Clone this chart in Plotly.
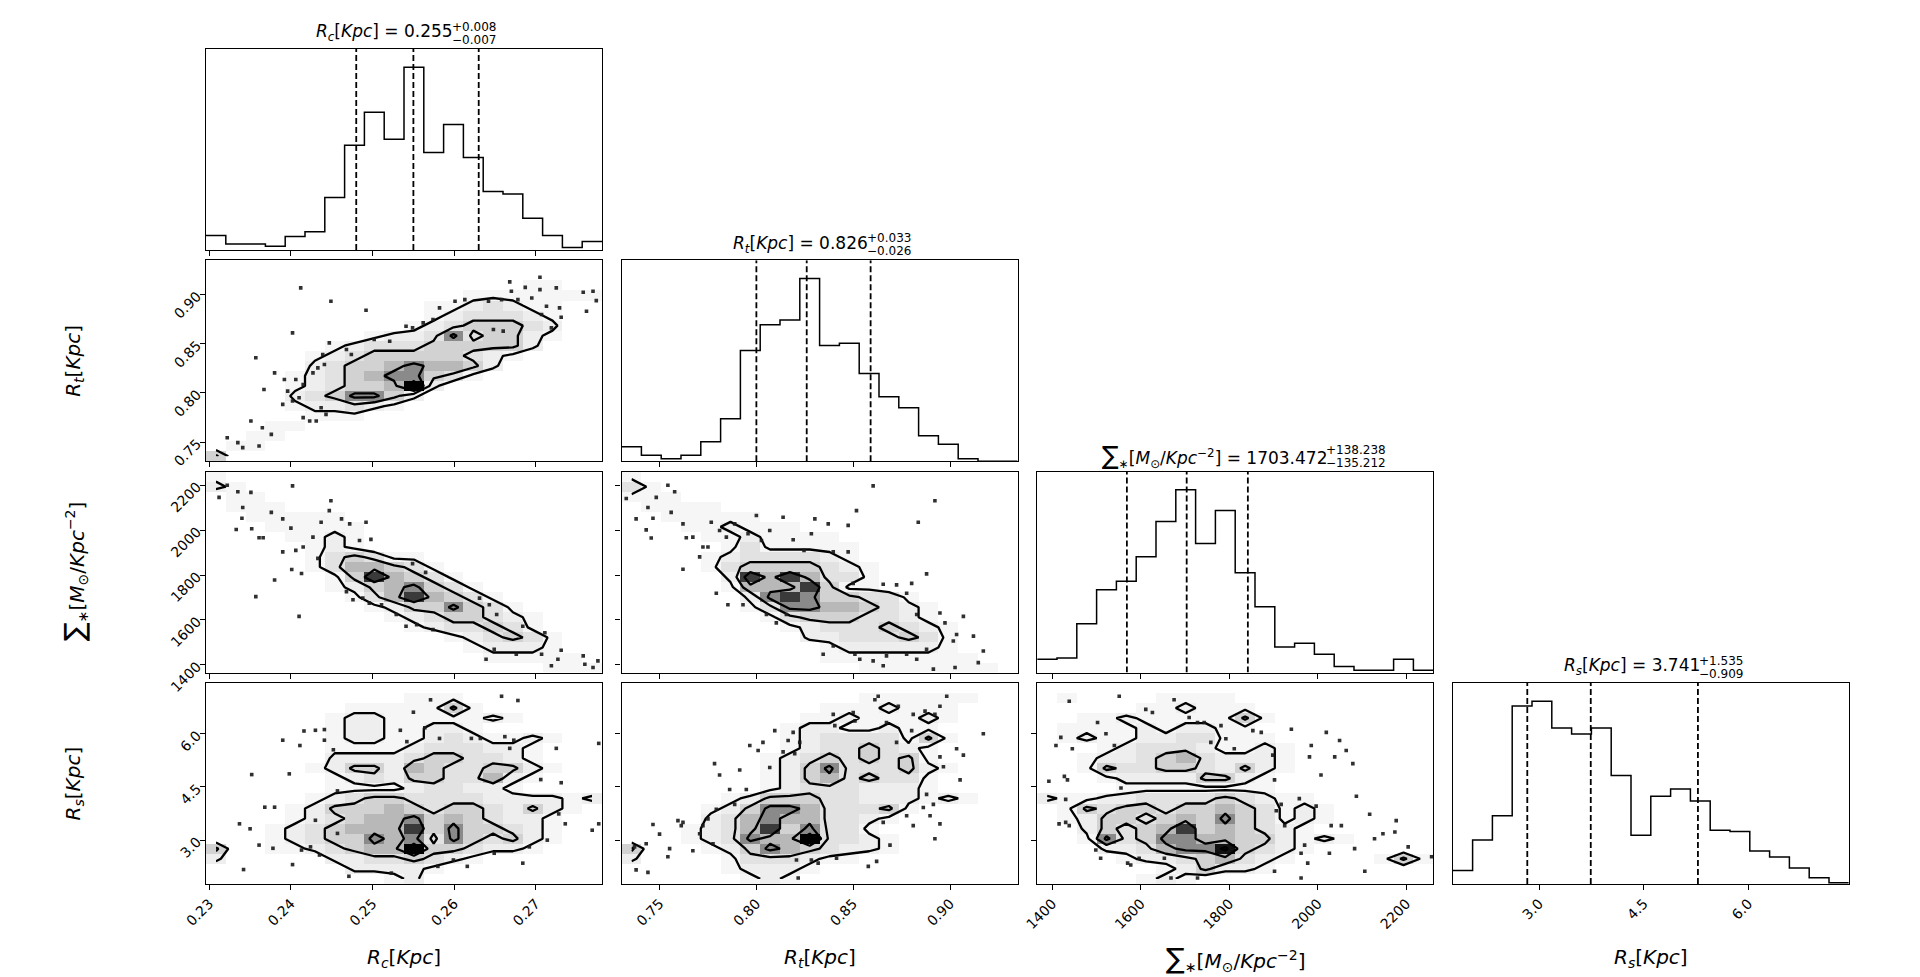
import plotly.graph_objects as go

W, H = 1920, 977

# ---- axis limits and ticks of the four parameters ----
rc_range = [0.2296, 0.2781]
rt_range = [0.7304, 0.9349]
sig_range = [1365.6, 2260.6]
rs_range = [1.765, 7.437]

rc_ticks = [0.23, 0.24, 0.25, 0.26, 0.27]
rt_ticks = [0.75, 0.80, 0.85, 0.90]
sig_ticks = [1400, 1600, 1800, 2000, 2200]
rs_ticks = [3.0, 4.5, 6.0]

# ---- 1d histograms (20 bins each) ----
rc_counts = [12, 5, 5, 3, 11, 15, 43, 86, 113, 91, 150, 80, 103, 76, 48, 46, 26, 12, 2, 7]
rt_counts = [12, 5, 2, 5, 16, 35, 91, 112, 116, 150, 95, 97, 72, 53, 44, 21, 14, 2, 0, 0]
sig_counts = [11, 12, 40, 68, 75, 95, 124, 150, 106, 133, 82, 54, 21, 24, 15, 5, 2, 2, 11, 2]
rs_counts = [11, 36, 56, 146, 150, 128, 123, 128, 89, 40, 72, 78, 68, 44, 43, 27, 22, 13, 5, 1]

# median, minus, plus
rc_q = [0.255, 0.007, 0.008]
rt_q = [0.826, 0.026, 0.033]
sig_q = [1703.472, 135.212, 138.238]
rs_q = [3.741, 0.909, 1.535]

# ---- 2d density levels (0 = empty ... 9 = darkest), top row first ----
rc_rt_grid = [
    "00000000000000000000",
    "00000000000000000000",
    "00000000000000001100",
    "00000000000001111111",
    "00000000000112321100",
    "00000000000123332100",
    "00000000001234443200",
    "00000000122363442100",
    "00000012333444442000",
    "00000123444443210000",
    "00000234456554200000",
    "00001234566431000000",
    "00001234459200000000",
    "00002346642000000000",
    "00001223210000000000",
    "00000111000000000000",
    "00011000000000000000",
    "00110000000000000000",
    "01100000000000000000",
    "40000000000000000000",
]
rc_sig_grid = [
    "10000000000000000000",
    "21000000000000000000",
    "01100000000000000000",
    "01110000000000000000",
    "00111110000000000000",
    "00011111000000000000",
    "00001121000000000000",
    "00000121000000000000",
    "00000134311000000000",
    "00000135543100000000",
    "00000014754310000000",
    "00000012456431000000",
    "00000001357543100000",
    "00000000124464310000",
    "00000000012344321000",
    "00000000001233431000",
    "00000000000012343100",
    "00000000000001222100",
    "00000000000000111110",
    "00000000000000000111",
]
rt_sig_grid = [
    "10000000000000000000",
    "31000000000000000000",
    "11100000000000000000",
    "01111000000000000000",
    "00111110000000000000",
    "00011211100000000000",
    "00001121111000000000",
    "00000131111100000000",
    "00001233332100000000",
    "00001344443210000000",
    "00000275753310000000",
    "00000155574110000000",
    "00000026764433100000",
    "00000013665543210000",
    "00000001344433210000",
    "00000000123334321000",
    "00000000022333431000",
    "00000000001222221000",
    "00000000001111111100",
    "00000000000011111110",
]
rc_rs_grid = [
    "00000000000000000000",
    "00000000001110000000",
    "00000001111141000000",
    "00000012211111210000",
    "00000012211221000000",
    "00000012211232112100",
    "00000011112333221000",
    "00000022223443321000",
    "00000124425433442100",
    "00000012324433521000",
    "00000011112332210000",
    "00000123443333222212",
    "00001244454344324210",
    "00001234556454322100",
    "00012345557464432100",
    "00012344656364342100",
    "40011234559443221000",
    "20000022334321000000",
    "00000002222100000000",
    "00000000012000000000",
]
rt_rs_grid = [
    "00000000000000000000",
    "00000000000011111100",
    "00000000001112111000",
    "00000000011211121000",
    "00000000122112110000",
    "00000000123333141000",
    "00000000123343210000",
    "00000001234343410000",
    "00000001246333421000",
    "00000001245343310000",
    "00000001233322210000",
    "00000124443322212100",
    "00001246653334100000",
    "00002356553321000000",
    "00012357463310000000",
    "00012365593321000000",
    "40001246543221000000",
    "20000133321100000000",
    "00000122210000000000",
    "00000012100000000000",
]
sig_rs_grid = [
    "00000000000000000000",
    "01000011110000000000",
    "00000112111000000000",
    "00112111114100000000",
    "01111212211000000000",
    "01211223311100000000",
    "00012333211210000000",
    "00122345322210000000",
    "00143344324210000000",
    "00012222442100000000",
    "00001111111100000000",
    "21122333343211000000",
    "01434434454312100000",
    "01244345464312100000",
    "00243457454321000000",
    "00163466554421210000",
    "00022356684321000000",
    "00001223453210000141",
    "00000012422100000000",
    "00000121000000000000",
]

# ---- individual samples outside the contours ----
rc_rt_pts = [(0.2322, 0.7544), (0.2335, 0.7494), (0.2341, 0.7443), (0.2361, 0.7460), (0.2351, 0.7714),
             (0.2365, 0.7646), (0.2376, 0.7578), (0.2390, 0.7883), (0.2392, 0.8137), (0.2406, 0.8137),
             (0.2396, 0.8018), (0.2402, 0.7917), (0.2415, 0.8086), (0.2410, 0.7951), (0.2427, 0.8204),
             (0.2433, 0.8255), (0.2439, 0.8391), (0.2441, 0.8289), (0.2437, 0.7849), (0.2443, 0.7781),
             (0.2423, 0.7714), (0.2415, 0.7748), (0.2431, 0.7714), (0.2447, 0.8509), (0.2468, 0.8441),
             (0.2474, 0.8391), (0.2492, 0.8841), (0.2502, 0.8543), (0.2521, 0.8526), (0.2541, 0.8678),
             (0.2549, 0.8661), (0.2562, 0.8712), (0.2574, 0.8746), (0.2582, 0.8865), (0.2601, 0.8932),
             (0.2613, 0.8949), (0.2642, 0.8932), (0.2658, 0.8949), (0.2668, 0.9129), (0.2670, 0.9034),
             (0.2678, 0.8949), (0.2687, 0.9074), (0.2695, 0.8966), (0.2705, 0.9176), (0.2705, 0.9051),
             (0.2713, 0.8882), (0.2725, 0.9068), (0.2729, 0.8865), (0.2731, 0.8770), (0.2719, 0.8661),
             (0.2758, 0.9024), (0.2770, 0.9034), (0.2774, 0.8939), (0.2762, 0.8831), (0.2707, 0.8797),
             (0.2648, 0.8645), (0.2660, 0.8628), (0.2412, 0.9068), (0.2449, 0.8932), (0.2402, 0.8611),
             (0.2357, 0.8357), (0.2380, 0.8204), (0.2367, 0.8035)]
rc_sig_pts = [(0.2312, 2146), (0.2322, 2200), (0.2335, 2171), (0.2341, 2101), (0.2351, 2168), (0.2333, 2003),
              (0.2340, 2053), (0.2352, 2006), (0.2361, 1966), (0.2366, 1966), (0.2376, 2079), (0.2390, 2050),
              (0.2400, 2009), (0.2406, 1910), (0.2390, 1903), (0.2401, 1825), (0.2413, 1807), (0.2415, 1925),
              (0.2427, 1969), (0.2433, 1874), (0.2437, 2035), (0.2449, 2131), (0.2447, 2087), (0.2462, 2050),
              (0.2472, 2028), (0.2484, 1954), (0.2492, 2035), (0.2498, 1959), (0.2468, 1726), (0.2476, 1690),
              (0.2488, 1697), (0.2496, 1675), (0.2511, 1668), (0.2529, 1624), (0.2541, 1572), (0.2554, 1579),
              (0.2574, 1557), (0.2549, 1851), (0.2565, 1812), (0.2631, 1697), (0.2643, 1668), (0.2652, 1624),
              (0.2684, 1572), (0.2711, 1543), (0.2639, 1425), (0.2649, 1469), (0.2676, 1447), (0.2707, 1447),
              (0.2719, 1396), (0.2731, 1465), (0.2727, 1425), (0.2758, 1440), (0.2770, 1388), (0.2776, 1418),
              (0.2760, 1403), (0.2357, 1704), (0.2380, 1778), (0.2410, 1616), (0.2402, 2197)]
rt_sig_pts = [(0.7328, 2141), (0.7440, 2101), (0.7466, 2053), (0.7543, 2200), (0.7578, 2171), (0.7483, 2146),
              (0.7379, 2050), (0.7431, 2001), (0.7457, 1965), (0.7560, 2079), (0.7621, 2028), (0.7621, 1826),
              (0.7638, 1966), (0.7672, 1969), (0.7707, 1881), (0.7724, 1925), (0.7750, 1925), (0.7767, 2035),
              (0.7793, 1719), (0.7810, 1998), (0.7845, 1969), (0.7853, 1668), (0.7888, 2028), (0.7931, 1668),
              (0.7957, 1984), (0.8000, 2065), (0.8026, 1954), (0.8052, 1624), (0.8069, 1998), (0.8103, 1587),
              (0.8138, 2057), (0.8155, 1624), (0.8190, 1957), (0.8246, 1910), (0.8284, 1984), (0.8302, 2050),
              (0.8371, 2028), (0.8397, 1903), (0.8474, 2021), (0.8517, 2087), (0.8474, 1903), (0.8500, 1763),
              (0.8603, 2197), (0.8655, 1759), (0.8724, 1756), (0.8776, 1719), (0.8802, 1763), (0.8828, 1624),
              (0.8836, 2035), (0.8879, 1805), (0.8922, 2131), (0.8948, 1631), (0.8974, 1587), (0.9034, 1535),
              (0.9069, 1616), (0.9121, 1528), (0.9172, 1462), (0.9017, 1506), (0.8879, 1469), (0.8828, 1425),
              (0.8776, 1447), (0.8672, 1440), (0.8655, 1396), (0.8603, 1418), (0.8534, 1425), (0.8509, 1447),
              (0.8397, 1484), (0.8345, 1447), (0.8914, 1381), (0.9026, 1388), (0.9146, 1410)]
rc_rs_pts = [(0.2352, 4.85), (0.2368, 3.93), (0.2380, 3.93), (0.2390, 5.82), (0.2398, 4.87), (0.2411, 5.67),
             (0.2416, 6.08), (0.2430, 6.10), (0.2441, 6.12), (0.2441, 5.82), (0.2452, 5.55), (0.2457, 4.39),
             (0.2430, 3.56), (0.2424, 2.81), (0.2402, 2.31), (0.2342, 2.17), (0.2337, 3.46), (0.2350, 3.32),
             (0.2361, 2.86), (0.2378, 2.77), (0.2413, 2.72), (0.2435, 2.58), (0.2457, 3.19), (0.2471, 1.98),
             (0.2523, 2.07), (0.2534, 6.10), (0.2542, 5.78), (0.2550, 6.61), (0.2564, 6.17), (0.2571, 6.96),
             (0.2582, 5.87), (0.2621, 5.87), (0.2632, 5.87), (0.2658, 7.06), (0.2678, 6.94), (0.2662, 5.92),
             (0.2673, 5.82), (0.2668, 5.59), (0.2706, 4.71), (0.2725, 5.59), (0.2731, 4.62), (0.2728, 3.74),
             (0.2736, 3.46), (0.2777, 3.46), (0.2714, 3.00), (0.2692, 2.81), (0.2684, 2.35), (0.2649, 2.63),
             (0.2616, 2.26), (0.2580, 2.26), (0.2599, 2.44), (0.2777, 5.73), (0.2769, 3.28)]
rt_rs_pts = [(0.7371, 2.81), (0.7379, 2.16), (0.7440, 2.09), (0.7431, 2.90), (0.7466, 3.44), (0.7500, 3.17),
             (0.7552, 2.76), (0.7543, 2.53), (0.7595, 3.55), (0.7621, 3.50), (0.7612, 3.41), (0.7672, 2.70),
             (0.7707, 3.18), (0.7724, 3.41), (0.7750, 3.60), (0.7776, 2.90), (0.7784, 5.16), (0.7793, 3.87),
             (0.7810, 4.84), (0.7862, 4.43), (0.7888, 4.01), (0.7914, 4.98), (0.7948, 4.43), (0.7966, 5.67),
             (0.8009, 5.53), (0.8034, 5.76), (0.8069, 5.05), (0.8095, 6.09), (0.8138, 5.49), (0.8164, 5.81),
             (0.8190, 6.04), (0.8198, 5.44), (0.8224, 5.76), (0.8207, 2.44), (0.8216, 1.93), (0.8284, 2.44),
             (0.8319, 2.35), (0.8414, 2.49), (0.8397, 6.55), (0.8405, 6.23), (0.8500, 6.60), (0.8509, 6.36),
             (0.8612, 6.96), (0.8629, 7.06), (0.8672, 6.32), (0.8724, 5.76), (0.8733, 6.78), (0.8802, 6.09),
             (0.8810, 6.55), (0.8871, 6.64), (0.8922, 6.55), (0.8948, 6.78), (0.8983, 7.06), (0.8948, 5.35),
             (0.8966, 5.07), (0.9034, 5.58), (0.9052, 4.70), (0.9069, 5.40), (0.9172, 6.00), (0.8914, 4.01),
             (0.8879, 4.29), (0.8862, 3.92), (0.8897, 3.69), (0.8810, 3.41), (0.8776, 3.69), (0.8655, 3.50),
             (0.8690, 2.86), (0.8621, 2.40), (0.8578, 2.26), (0.8922, 3.04), (0.8948, 3.46)]
sig_rs_pts = [(1392, 4.66), (1408, 5.67), (1419, 5.90), (1427, 4.80), (1434, 4.70), (1445, 5.58), (1430, 4.15),
              (1415, 3.46), (1430, 3.50), (1438, 3.41), (1438, 6.92), (1498, 2.72), (1509, 2.49), (1502, 6.32),
              (1521, 6.00), (1540, 5.67), (1551, 7.06), (1555, 4.47), (1570, 2.35), (1577, 2.30), (1596, 2.49),
              (1611, 6.69), (1626, 6.60), (1653, 2.49), (1668, 1.93), (1675, 6.96), (1709, 6.46), (1728, 6.32),
              (1728, 1.93), (1743, 6.32), (1758, 5.76), (1781, 6.23), (1792, 5.86), (1811, 5.58), (1853, 6.09),
              (1872, 6.04), (1898, 5.40), (1902, 4.70), (1906, 3.83), (1917, 4.01), (1925, 3.41), (1940, 6.13),
              (1958, 4.17), (1962, 2.63), (1970, 2.86), (1977, 2.35), (1985, 5.67), (1981, 5.35), (1996, 3.96),
              (2007, 4.84), (2019, 6.04), (2026, 2.63), (2030, 3.41), (2038, 5.35), (2053, 3.41), (2064, 5.53),
              (2049, 5.81), (2079, 5.16), (2087, 4.24), (2106, 2.12), (2083, 2.76), (2147, 3.18), (2174, 3.23),
              (2177, 3.55), (2204, 2.81), (2257, 2.53), (2117, 3.73), (1962, 1.93), (1902, 2.12), (2128, 3.04)]

# ---- labels ----
def sig_text(big):
    return ("<span style='font-size:%dpx'>∑</span><sub>∗</sub>[<i>M</i><sub>⊙</sub>/<i>Kpc</i>"
            "<sup>−2</sup>]" % big)

rc_label = "<i>R</i><sub><i>c</i></sub>[<i>Kpc</i>]"
rt_label = "<i>R</i><sub><i>t</i></sub>[<i>Kpc</i>]"
rs_label = "<i>R</i><sub><i>s</i></sub>[<i>Kpc</i>]"

params = [
    dict(rng=rc_range, ticks=rc_ticks, fmt='.2f', counts=rc_counts, q=rc_q, label=rc_label,
         title=rc_label, qfmt='%.3f', main_w=146, scr_w=44),
    dict(rng=rt_range, ticks=rt_ticks, fmt='.2f', counts=rt_counts, q=rt_q, label=rt_label,
         title=rt_label, qfmt='%.3f', main_w=144, scr_w=44),
    dict(rng=sig_range, ticks=sig_ticks, fmt='d', counts=sig_counts, q=sig_q, label=sig_text(28),
         title=sig_text(25), qfmt='%.3f', main_w=246, scr_w=58),
    dict(rng=rs_range, ticks=rs_ticks, fmt='.1f', counts=rs_counts, q=rs_q, label=rs_label,
         title=rs_label, qfmt='%.3f', main_w=146, scr_w=44),
]

grids = {(1, 0): rc_rt_grid, (2, 0): rc_sig_grid, (2, 1): rt_sig_grid,
         (3, 0): rc_rs_grid, (3, 1): rt_rs_grid, (3, 2): sig_rs_grid}
points = {(1, 0): rc_rt_pts, (2, 0): rc_sig_pts, (2, 1): rt_sig_pts,
          (3, 0): rc_rs_pts, (3, 1): rt_rs_pts, (3, 2): sig_rs_pts}

grays = ['#ffffff', '#f6f6f6', '#eeeeee', '#e2e2e2', '#d2d2d2',
         '#b8b8b8', '#8a8a8a', '#3a3a3a', '#111111', '#000000']
gray_scale = [[i / 9, g] for i, g in enumerate(grays)]

# panel geometry in pixels
col_left = [198, 613.6, 1029.2, 1444.8]
row_top = [41, 252.3, 463.6, 674.9]
PW, PH = 396, 201


def centers(rng):
    bw = (rng[1] - rng[0]) / 20
    return [rng[0] + (i + 0.5) * bw for i in range(20)]


def edges(rng):
    bw = (rng[1] - rng[0]) / 20
    return [rng[0] + i * bw for i in range(21)]


def grid_to_z(rows):
    z = []
    for row in reversed(rows):
        row = (row + '0' * 20)[:20]
        z.append([int(ch) for ch in row])
    return z


fig = go.Figure()
layout = {}
annotations = []

axis_common = dict(showgrid=False, zeroline=False, showline=True, mirror=True,
                   linecolor='black', linewidth=1.3, ticks='outside', ticklen=5,
                   tickwidth=1.2, tickcolor='black', automargin=False,
                   tickfont=dict(size=14, color='black'), tickangle=-45)

k = 0
for r in range(4):
    for c in range(r + 1):
        k += 1
        sx = '' if k == 1 else str(k)
        xref, yref = 'x' + sx, 'y' + sx
        px = params[c]
        x0 = col_left[c] / W
        x1 = (col_left[c] + PW) / W
        y1 = 1 - row_top[r] / H
        y0 = 1 - (row_top[r] + PH) / H

        xa = dict(axis_common, domain=[x0, x1], anchor=yref, range=px['rng'],
                  tickvals=px['ticks'], tickformat=px['fmt'], showticklabels=(r == 3))

        if r == c:
            counts = px['counts']
            ymax = 1.1 * max(counts)
            ya = dict(axis_common, domain=[y0, y1], anchor=xref, range=[0, ymax],
                      ticks='', showticklabels=False)
            ex = edges(px['rng'])
            fig.add_trace(go.Scatter(x=ex, y=counts + [counts[-1]], mode='lines',
                                     line=dict(color='black', width=1.5, shape='hv'),
                                     xaxis=xref, yaxis=yref, hoverinfo='skip'))
            m, lo, hi = px['q']
            for v in [m - lo, m, m + hi]:
                fig.add_trace(go.Scatter(x=[v, v], y=[0, ymax], mode='lines',
                                         line=dict(color='black', width=1.8, dash='6px,3px'),
                                         xaxis=xref, yaxis=yref, hoverinfo='skip'))
            # title with stacked errors
            cx = col_left[c] + PW / 2
            split = cx - (px['main_w'] + px['scr_w']) / 2 + px['main_w']
            ty = row_top[r] - 16
            annotations.append(dict(x=split / W, y=1 - ty / H, xref='paper', yref='paper',
                                    xanchor='right', yanchor='middle', showarrow=False,
                                    text=px['title'] + ' = ' + px['qfmt'] % m,
                                    font=dict(size=17)))
            annotations.append(dict(x=(split - 5) / W, y=1 - (ty - 6) / H, xref='paper', yref='paper',
                                    xanchor='left', yanchor='middle', showarrow=False,
                                    text='+' + px['qfmt'] % hi, font=dict(size=12)))
            annotations.append(dict(x=(split - 5) / W, y=1 - (ty + 7) / H, xref='paper', yref='paper',
                                    xanchor='left', yanchor='middle', showarrow=False,
                                    text='−' + px['qfmt'] % lo, font=dict(size=12)))
        else:
            py = params[r]
            ya = dict(axis_common, domain=[y0, y1], anchor=xref, range=py['rng'],
                      tickvals=py['ticks'], tickformat=py['fmt'], showticklabels=(c == 0))
            z = grid_to_z(grids[(r, c)])
            cxs, cys = centers(px['rng']), centers(py['rng'])
            fig.add_trace(go.Heatmap(x=cxs, y=cys, z=z, zmin=0, zmax=9, colorscale=gray_scale,
                                     showscale=False, xaxis=xref, yaxis=yref, hoverinfo='skip'))
            pts = points[(r, c)]
            fig.add_trace(go.Scatter(x=[p[0] for p in pts], y=[p[1] for p in pts], mode='markers',
                                     marker=dict(size=3.6, color='rgba(25,25,25,0.9)', symbol='square'),
                                     xaxis=xref, yaxis=yref, hoverinfo='skip'))
            fig.add_trace(go.Contour(x=cxs, y=cys, z=z, showscale=False,
                                     contours=dict(start=1.5, end=7.5, size=2, coloring='none'),
                                     line=dict(color='black', width=2.3, smoothing=0),
                                     xaxis=xref, yaxis=yref, hoverinfo='skip'))

        layout['xaxis' + sx] = xa
        layout['yaxis' + sx] = ya

# axis labels
for c in range(4):
    annotations.append(dict(x=(col_left[c] + PW / 2) / W, y=1 - 950 / H, xref='paper', yref='paper',
                            xanchor='center', yanchor='middle', showarrow=False,
                            text=params[c]['label'], font=dict(size=20)))
for r in range(1, 4):
    annotations.append(dict(x=66 / W, y=1 - (row_top[r] + PH / 2) / H, xref='paper', yref='paper',
                            xanchor='center', yanchor='middle', showarrow=False, textangle=-90,
                            text=params[r]['label'], font=dict(size=20)))

fig.update_layout(**layout)
fig.update_layout(width=W, height=H, margin=dict(l=0, r=0, t=0, b=0),
                  plot_bgcolor='white', paper_bgcolor='white', showlegend=False,
                  font=dict(family='DejaVu Sans', color='black'),
                  annotations=annotations)

fig.write_html("out.html")
